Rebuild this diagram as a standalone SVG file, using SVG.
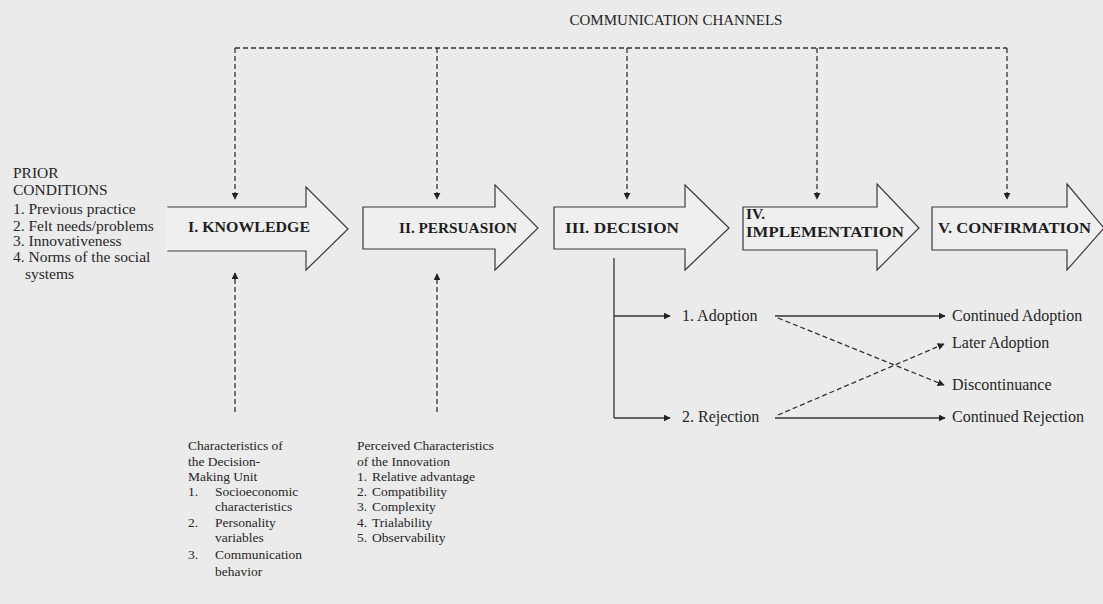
<svg xmlns="http://www.w3.org/2000/svg" width="1103" height="604" viewBox="0 0 1103 604">
  <style>
    .bg { fill: #ebebeb; }
    .stage { fill: #efefef; stroke: #3a3a3a; stroke-width: 1.2; }
    .stage-label { font-family: "Liberation Serif", "Times New Roman", serif; font-weight: bold; font-size: 15.5px; fill: #1e1e1e; }
    .txt { font-family: "Liberation Serif", "Times New Roman", serif; font-size: 15.5px; fill: #262626; }
    .out { font-family: "Liberation Serif", "Times New Roman", serif; font-size: 16px; fill: #262626; }
    .small { font-family: "Liberation Serif", "Times New Roman", serif; font-size: 13.5px; fill: #262626; }
    .title { font-family: "Liberation Serif", "Times New Roman", serif; font-size: 15px; fill: #1e1e1e; }
    .dash { fill: none; stroke: #333; stroke-width: 1.3; stroke-dasharray: 5 3; }
    .solid { fill: none; stroke: #333; stroke-width: 1.3; }
  </style>
  <defs>
    <marker id="head" viewBox="0 0 10 10" refX="9" refY="5" markerWidth="7" markerHeight="7" markerUnits="userSpaceOnUse" orient="auto">
      <path d="M0,0 L10,5 L0,10 Z" fill="#222"/>
    </marker>
  </defs>

  <rect class="bg" x="0" y="0" width="1103" height="604"/>

  <!-- heading over the channel bus -->
  <g id="channels-title">
    <text class="title" x="676" y="25" text-anchor="middle">COMMUNICATION CHANNELS</text>
  </g>

  <!-- stage arrows -->
  <g id="stage-knowledge">
    <path class="stage" d="M167,207 H306 V187 L348,229 L306,270 V251 H167" />
    <line x1="167" y1="207" x2="167" y2="251" stroke="#efefef" stroke-width="1.4"/>
    <text class="stage-label" x="188" y="232" textLength="122" lengthAdjust="spacingAndGlyphs">I. KNOWLEDGE</text>
  </g>
  <g id="stage-persuasion">
    <path class="stage" d="M363,207 H495 V185 L538,228 L495,270 V249 H363 Z" />
    <text class="stage-label" x="399" y="233" textLength="118" lengthAdjust="spacingAndGlyphs">II. PERSUASION</text>
  </g>
  <g id="stage-decision">
    <path class="stage" d="M554,207 H685 V185 L729,228 L685,270 V249 H554 Z" />
    <text class="stage-label" x="565" y="233" textLength="114" lengthAdjust="spacingAndGlyphs">III. DECISION</text>
  </g>
  <g id="stage-implementation">
    <path class="stage" d="M743,207 H877 V184 L919,228 L877,270 V250 H743 Z" />
    <text class="stage-label" x="746" y="219">IV.</text>
    <text class="stage-label" x="746" y="237" textLength="158" lengthAdjust="spacingAndGlyphs">IMPLEMENTATION</text>
  </g>
  <g id="stage-confirmation">
    <path class="stage" d="M932,207 H1067 V184 L1104,228 L1067,270 V250 H932 Z" />
    <text class="stage-label" x="938" y="233" textLength="153" lengthAdjust="spacingAndGlyphs">V. CONFIRMATION</text>
  </g>

  <!-- antecedents -->
  <g id="prior-conditions">
    <text class="txt" x="13" y="178">PRIOR</text>
    <text class="txt" x="13" y="195">CONDITIONS</text>
    <text class="txt" x="13" y="214">1. Previous practice</text>
    <text class="txt" x="13" y="231">2. Felt needs/problems</text>
    <text class="txt" x="13" y="246">3. Innovativeness</text>
    <text class="txt" x="13" y="262">4. Norms of the social</text>
    <text class="txt" x="25" y="279">systems</text>
  </g>

  <!-- characteristics of the decision-making unit -->
  <g id="unit-characteristics">
    <text class="small" x="188" y="450">Characteristics of</text>
    <text class="small" x="188" y="466">the Decision-</text>
    <text class="small" x="188" y="481">Making Unit</text>
    <text class="small" x="188" y="496">1.</text>
    <text class="small" x="215" y="496">Socioeconomic</text>
    <text class="small" x="215" y="511">characteristics</text>
    <text class="small" x="188" y="527">2.</text>
    <text class="small" x="215" y="527">Personality</text>
    <text class="small" x="215" y="542">variables</text>
    <text class="small" x="188" y="559">3.</text>
    <text class="small" x="215" y="559">Communication</text>
    <text class="small" x="215" y="576">behavior</text>
  </g>

  <!-- perceived characteristics of the innovation -->
  <g id="innovation-characteristics">
    <text class="small" x="357" y="450">Perceived Characteristics</text>
    <text class="small" x="357" y="466">of the Innovation</text>
    <text class="small" x="357" y="481">1.</text>
    <text class="small" x="372" y="481">Relative advantage</text>
    <text class="small" x="357" y="496">2.</text>
    <text class="small" x="372" y="496">Compatibility</text>
    <text class="small" x="357" y="511">3.</text>
    <text class="small" x="372" y="511">Complexity</text>
    <text class="small" x="357" y="527">4.</text>
    <text class="small" x="372" y="527">Trialability</text>
    <text class="small" x="357" y="542">5.</text>
    <text class="small" x="372" y="542">Observability</text>
  </g>

  <!-- outcomes -->
  <g id="adoption"><text class="out" x="682" y="321">1. Adoption</text></g>
  <g id="rejection"><text class="out" x="682" y="422">2. Rejection</text></g>
  <g id="continued-adoption"><text class="out" x="952" y="321">Continued Adoption</text></g>
  <g id="later-adoption"><text class="out" x="952" y="348">Later Adoption</text></g>
  <g id="discontinuance"><text class="out" x="952" y="390">Discontinuance</text></g>
  <g id="continued-rejection"><text class="out" x="952" y="422">Continued Rejection</text></g>

  <!-- connectors -->
  <g id="connectors">
    <!-- channel bus -->
    <path class="dash" d="M235,48 H1007"/>
    <line class="dash" x1="235" y1="48" x2="235" y2="199" marker-end="url(#head)"/>
    <line class="dash" x1="437" y1="48" x2="437" y2="199" marker-end="url(#head)"/>
    <line class="dash" x1="627" y1="48" x2="627" y2="199" marker-end="url(#head)"/>
    <line class="dash" x1="817" y1="48" x2="817" y2="199" marker-end="url(#head)"/>
    <line class="dash" x1="1007" y1="48" x2="1007" y2="199" marker-end="url(#head)"/>

    <!-- characteristics feeding knowledge and persuasion -->
    <line class="dash" x1="235" y1="412" x2="235" y2="273" marker-end="url(#head)"/>
    <line class="dash" x1="437" y1="412" x2="437" y2="274" marker-end="url(#head)"/>

    <!-- decision branches -->
    <path class="solid" d="M614,258 V418"/>
    <line class="solid" x1="614" y1="316" x2="670" y2="316" marker-end="url(#head)"/>
    <line class="solid" x1="614" y1="418" x2="670" y2="418" marker-end="url(#head)"/>

    <line class="solid" x1="775" y1="316" x2="945" y2="316" marker-end="url(#head)"/>
    <line class="solid" x1="775" y1="418" x2="945" y2="418" marker-end="url(#head)"/>
    <line class="dash" x1="778" y1="318" x2="944" y2="385" marker-end="url(#head)"/>
    <line class="dash" x1="778" y1="415" x2="944" y2="344" marker-end="url(#head)"/>
  </g>
</svg>
